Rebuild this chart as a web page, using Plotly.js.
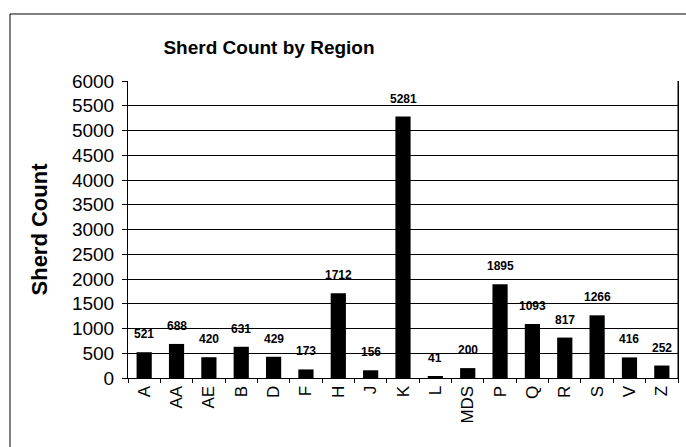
<!DOCTYPE html>
<html><head><meta charset="utf-8">
<script src="https://cdn.plot.ly/plotly-3.0.1.min.js"></script>
<style>body{margin:0;padding:0;background:#fff}#chart{width:686px;height:447px}</style>
</head><body><div id="chart"></div>
<script>
const regions = ["A","AA","AE","B","D","F","H","J","K","L","MDS","P","Q","R","S","V","Z"];
const counts = [521,688,420,631,429,173,1712,156,5281,41,200,1895,1093,817,1266,416,252];
const yTicks = [0,500,1000,1500,2000,2500,3000,3500,4000,4500,5000,5500,6000];

const L=128, R=8, T=81, B=69, W=686, H=447;
const pw = W-L-R, ph = H-T-B;
const px = x => (x-L)/pw;
const py = y => (H-B-y)/ph;

const trace = {
  type:'bar', x:regions, y:counts,
  marker:{color:'#000'}
};
const labels = regions.map((r,i)=>({
  x:r, y:counts[i], xref:'x', yref:'y', text:'<b>'+counts[i]+'</b>', showarrow:false,
  yanchor:'bottom', yshift:9, font:{family:'Arial', size:12, color:'#000'}
}));
const layout = {
  width:W, height:H,
  margin:{l:L, r:R, t:T, b:B, pad:0},
  paper_bgcolor:'#fff', plot_bgcolor:'#fff',
  bargap:0.53,
  showlegend:false,
  title:{text:'<b>Sherd Count by Region</b>', x:px(269), xref:'paper', xanchor:'center', y:1-47/H, yanchor:'middle', font:{family:'Arial', size:19, color:'#000'}},
  xaxis:{type:'category', tickangle:-90, ticks:'outside', tickson:'boundaries', ticklen:4, tickcolor:'#000',
    showline:true, linecolor:'#000', linewidth:1, mirror:false,
    tickfont:{family:'Arial', size:17, color:'#000'}, automargin:false},
  yaxis:{range:[0,6000], tickvals:yTicks, ticktext:yTicks.map(String), ticks:'outside', ticklen:5, tickcolor:'#000',
    showgrid:true, gridcolor:'#000', gridwidth:1, showline:true, linecolor:'#000', linewidth:1, mirror:true,
    zeroline:false, tickfont:{family:'Arial', size:19, color:'#000'}, ticklabelstandoff:4,
    title:{text:'<b>Sherd Count</b>', standoff:18, font:{family:'Arial', size:22, color:'#000'}}, automargin:false},
  annotations:labels,
  shapes:[
    {type:'line', xref:'paper', yref:'paper', x0:px(10), x1:px(686), y0:py(14), y1:py(14), line:{color:'#000', width:1}},
    {type:'line', xref:'paper', yref:'paper', x0:px(10), x1:px(10), y0:py(14), y1:py(447), line:{color:'#000', width:1}},
    {type:'line', xref:'paper', yref:'paper', x0:1, x1:1, y0:0, y1:1, line:{color:'#000', width:1}}
  ]
};
Plotly.newPlot('chart',[trace],layout,{displayModeBar:false,staticPlot:true});
</script></body></html>
